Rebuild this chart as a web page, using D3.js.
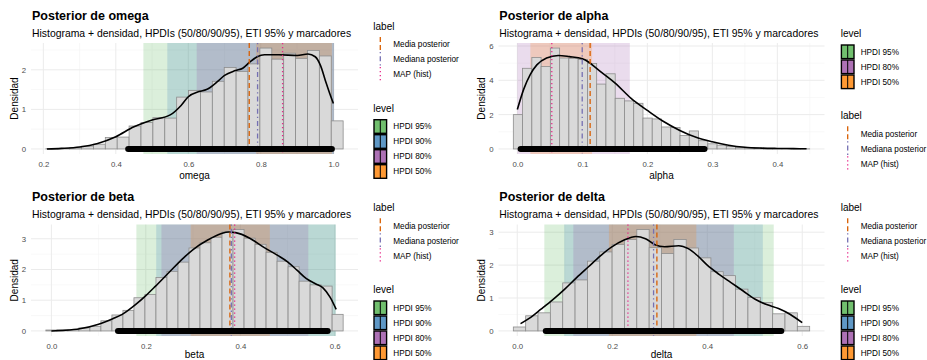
<!DOCTYPE html>
<html>
<head>
<meta charset="utf-8">
<script src="https://cdn.jsdelivr.net/npm/d3@7"></script>
<style>
  body { margin: 0; background: #ffffff; }
  svg { display: block; }
  text { font-family: "Liberation Sans", Arial, Helvetica, sans-serif; }
</style>
</head>
<body>
<svg id="fig" width="927" height="360"></svg>
<script>
// ---------- omega ----------
const omegaBinStart = 0.207;
const omegaBinWidth = 0.0328;
const omegaHeights = [0.005, 0.01, 0.03, 0.07, 0.12, 0.29, 0.30, 0.58, 0.67, 0.79, 0.78, 1.31, 1.48,
                      1.44, 1.71, 2.06, 1.96, 2.15, 2.55, 2.27, 2.42, 2.29, 2.49, 2.35, 0.71];
const omegaDensity = [[0.21, 0.0], [0.25, 0.015], [0.30, 0.05], [0.35, 0.14], [0.40, 0.31], [0.45, 0.56],
                      [0.48, 0.67], [0.50, 0.73], [0.55, 0.86], [0.58, 1.10], [0.60, 1.32], [0.63, 1.45],
                      [0.65, 1.50], [0.68, 1.70], [0.70, 1.86], [0.73, 1.98], [0.75, 2.04], [0.77, 2.20],
                      [0.79, 2.33], [0.81, 2.38], [0.85, 2.38], [0.90, 2.36], [0.93, 2.40], [0.95, 2.33],
                      [0.965, 2.10], [0.98, 1.67], [0.99, 1.40], [1.0, 1.15]];
const omegaHPDI = [["HPDI 95%", 0.476, 1.002], ["HPDI 90%", 0.542, 1.002],
                   ["HPDI 80%", 0.623, 1.002], ["HPDI 50%", 0.787, 0.996]];
const omegaMarkers = [["Media posterior", 0.768], ["Mediana posterior", 0.791], ["MAP (hist)", 0.860]];
const omegaETI = [0.434, 0.996];
const omegaXTicks = [0.2, 0.4, 0.6, 0.8, 1.0];
const omegaYTicks = [0, 1, 2];

// ---------- alpha ----------
const alphaBinStart = -0.0062;
const alphaBinWidth = 0.01425;
const alphaHeights = [2.0, 4.7, 5.33, 4.8, 5.88, 5.3, 5.28, 5.22, 4.98, 3.78, 4.38, 2.95, 2.8, 2.66,
                      1.8, 1.75, 1.28, 1.25, 0.78, 1.05, 0.48, 0.3, 0.22, 0.15, 0.1, 0.07, 0.05,
                      0.03, 0.02, 0.01, 0.01, 0.005];
const alphaDensity = [[0.0, 2.3], [0.01, 3.5], [0.02, 4.35], [0.03, 4.9], [0.045, 5.3], [0.063, 5.45],
                      [0.08, 5.38], [0.10, 5.25], [0.11, 5.05], [0.12, 4.75], [0.135, 4.3], [0.15, 3.85],
                      [0.175, 2.95], [0.20, 2.25], [0.225, 1.6], [0.25, 1.08], [0.275, 0.68], [0.30, 0.42],
                      [0.325, 0.22], [0.35, 0.1], [0.375, 0.05], [0.40, 0.03], [0.425, 0.02], [0.445, 0.01]];
const alphaHPDI = [["HPDI 80%", 0.0, 0.173], ["HPDI 50%", 0.02, 0.115]];
const alphaMarkers = [["Media posterior", 0.112], ["Mediana posterior", 0.0998], ["MAP (hist)", 0.053]];
const alphaETI = [0.005, 0.288];
const alphaXTicks = [0.0, 0.1, 0.2, 0.3, 0.4];
const alphaYTicks = [0, 2, 4, 6];

// ---------- beta ----------
const betaBinStart = -0.01166;
const betaBinWidth = 0.02331;
const betaHeights = [0.03, 0.04, 0.05, 0.10, 0.15, 0.33, 0.52, 0.67, 1.08, 1.19, 1.74, 1.94, 2.24, 2.70,
                     2.87, 3.05, 3.22, 3.30, 3.02, 2.82, 2.56, 2.27, 2.09, 1.62, 1.50, 1.46, 0.54];
const betaDensity = [[0.0, 0.0], [0.03, 0.02], [0.06, 0.07], [0.10, 0.22], [0.13, 0.40], [0.15, 0.54],
                     [0.18, 0.88], [0.20, 1.15], [0.22, 1.45], [0.25, 1.92], [0.28, 2.38], [0.30, 2.65],
                     [0.33, 2.95], [0.36, 3.17], [0.375, 3.22], [0.39, 3.20], [0.42, 3.02], [0.45, 2.72],
                     [0.48, 2.45], [0.50, 2.25], [0.52, 1.98], [0.54, 1.70], [0.56, 1.53], [0.575, 1.40],
                     [0.59, 1.10], [0.603, 0.70]];
const betaHPDI = [["HPDI 95%", 0.180, 0.602], ["HPDI 90%", 0.222, 0.602],
                  ["HPDI 80%", 0.233, 0.544], ["HPDI 50%", 0.295, 0.4625]];
const betaMarkers = [["Media posterior", 0.378], ["Mediana posterior", 0.381], ["MAP (hist)", 0.388]];
const betaETI = [0.141, 0.585];
const betaXTicks = [0.0, 0.2, 0.4, 0.6];
const betaYTicks = [0, 1, 2, 3];

// ---------- delta ----------
const deltaBinStart = -0.0083;
const deltaBinWidth = 0.026;
const deltaHeights = [0.12, 0.46, 0.55, 0.88, 1.46, 1.55, 2.12, 2.40, 2.63, 2.78, 3.08, 2.53, 2.35, 2.78,
                      2.52, 2.22, 1.80, 1.68, 1.27, 1.02, 0.86, 0.52, 0.55, 0.14];
const deltaDensity = [[0.007, 0.22], [0.025, 0.38], [0.05, 0.66], [0.075, 0.95], [0.10, 1.27], [0.125, 1.62],
                      [0.15, 1.95], [0.175, 2.28], [0.20, 2.56], [0.225, 2.76], [0.25, 2.87], [0.27, 2.80],
                      [0.29, 2.62], [0.31, 2.56], [0.34, 2.59], [0.36, 2.50], [0.38, 2.28], [0.40, 2.00],
                      [0.425, 1.72], [0.45, 1.47], [0.475, 1.22], [0.50, 0.97], [0.525, 0.80], [0.55, 0.68],
                      [0.575, 0.50], [0.60, 0.25]];
const deltaHPDI = [["HPDI 95%", 0.057, 0.540], ["HPDI 90%", 0.099, 0.517],
                   ["HPDI 80%", 0.118, 0.456], ["HPDI 50%", 0.193, 0.377]];
const deltaMarkers = [["Media posterior", 0.294], ["Mediana posterior", 0.287], ["MAP (hist)", 0.233]];
const deltaETI = [0.060, 0.556];
const deltaXTicks = [0.0, 0.2, 0.4, 0.6];
const deltaYTicks = [0, 1, 2, 3];

// ---------- shared styling ----------
const levelColors = { "HPDI 95%": "#4DAF4A", "HPDI 90%": "#377EB8", "HPDI 80%": "#984EA3", "HPDI 50%": "#FF7F00" };
const markerStyles = {
  "Media posterior":   { color: "#D95F02", dash: "5,3" },
  "Mediana posterior": { color: "#7570B3", dash: "1.3,3,5,3" },
  "MAP (hist)":        { color: "#E7298A", dash: "1.3,2.7" }
};
const subtitleText = "Histograma + densidad, HPDIs (50/80/90/95), ETI 95% y marcadores";

const panels = [
  { name: "omega", binStart: omegaBinStart, binWidth: omegaBinWidth, heights: omegaHeights,
    density: omegaDensity, hpdi: omegaHPDI, markers: omegaMarkers, eti: omegaETI,
    xTicks: omegaXTicks, yTicks: omegaYTicks, fmt: ".1f",
    legends: ["label", "level"], levels: ["HPDI 95%", "HPDI 90%", "HPDI 80%", "HPDI 50%"],
    box: { left: 31, right: 358, top: 43, bottom: 154 }, titleX: 32, titleY: 19.5, yTitleX: 17.5,
    xTitleY: 179, legendX: 373.3, legendY: 26 },
  { name: "alpha", binStart: alphaBinStart, binWidth: alphaBinWidth, heights: alphaHeights,
    density: alphaDensity, hpdi: alphaHPDI, markers: alphaMarkers, eti: alphaETI,
    xTicks: alphaXTicks, yTicks: alphaYTicks, fmt: ".1f",
    legends: ["level", "label"], levels: ["HPDI 95%", "HPDI 80%", "HPDI 50%"],
    box: { left: 498.5, right: 824.5, top: 43, bottom: 154 }, titleX: 499.3, titleY: 19.5, yTitleX: 484.5,
    xTitleY: 179, legendX: 840.7, legendY: 33.3 },
  { name: "beta", binStart: betaBinStart, binWidth: betaBinWidth, heights: betaHeights,
    density: betaDensity, hpdi: betaHPDI, markers: betaMarkers, eti: betaETI,
    xTicks: betaXTicks, yTicks: betaYTicks, fmt: ".1f",
    legends: ["label", "level"], levels: ["HPDI 95%", "HPDI 90%", "HPDI 80%", "HPDI 50%"],
    box: { left: 31, right: 358, top: 224.5, bottom: 336 }, titleX: 32, titleY: 201, yTitleX: 17.5,
    xTitleY: 358, legendX: 373.3, legendY: 207.3 },
  { name: "delta", binStart: deltaBinStart, binWidth: deltaBinWidth, heights: deltaHeights,
    density: deltaDensity, hpdi: deltaHPDI, markers: deltaMarkers, eti: deltaETI,
    xTicks: deltaXTicks, yTicks: deltaYTicks, fmt: ".1f",
    legends: ["label", "level"], levels: ["HPDI 95%", "HPDI 90%", "HPDI 80%", "HPDI 50%"],
    box: { left: 498.5, right: 824.5, top: 224.5, bottom: 336 }, titleX: 499.3, titleY: 201, yTitleX: 484.5,
    xTitleY: 358, legendX: 840.7, legendY: 207.3 }
];

const svg = d3.select("#fig");

function drawPanel(p) {
  const g = svg.append("g").attr("class", "panel-" + p.name);
  const bins = p.heights.map((h, i) => ({ x0: p.binStart + i * p.binWidth, x1: p.binStart + (i + 1) * p.binWidth, h }));

  // ggplot-style 5% expansion of the data range
  const xMin = bins[0].x0, xMax = bins[bins.length - 1].x1;
  const xPad = (xMax - xMin) * 0.05;
  const yMax = d3.max(p.heights.concat(p.density.map(d => d[1])));
  const yPad = yMax * 0.05;

  const x = d3.scaleLinear().domain([xMin - xPad, xMax + xPad]).range([p.box.left, p.box.right]);
  const y = d3.scaleLinear().domain([-yPad, yMax + yPad]).range([p.box.bottom, p.box.top]);

  // grid: minor then major
  const xStep = p.xTicks[1] - p.xTicks[0];
  const yStep = p.yTicks[1] - p.yTicks[0];
  const xMinor = d3.range(p.xTicks[0] - xStep / 2, xMax + xPad, xStep).filter(v => v > x.domain()[0] && v < x.domain()[1]);
  const yMinor = d3.range(p.yTicks[0] + yStep / 2, yMax + yPad, yStep).filter(v => v < y.domain()[1]);
  const grid = g.append("g");
  grid.selectAll(".xm").data(xMinor).join("line")
    .attr("x1", d => x(d)).attr("x2", d => x(d)).attr("y1", p.box.top).attr("y2", p.box.bottom)
    .attr("stroke", "#F3F3F3").attr("stroke-width", 0.6);
  grid.selectAll(".ym").data(yMinor).join("line")
    .attr("x1", p.box.left).attr("x2", p.box.right).attr("y1", d => y(d)).attr("y2", d => y(d))
    .attr("stroke", "#F3F3F3").attr("stroke-width", 0.6);
  grid.selectAll(".xM").data(p.xTicks).join("line")
    .attr("x1", d => x(d)).attr("x2", d => x(d)).attr("y1", p.box.top).attr("y2", p.box.bottom)
    .attr("stroke", "#EBEBEB").attr("stroke-width", 1);
  grid.selectAll(".yM").data(p.yTicks).join("line")
    .attr("x1", p.box.left).attr("x2", p.box.right).attr("y1", d => y(d)).attr("y2", d => y(d))
    .attr("stroke", "#EBEBEB").attr("stroke-width", 1);

  // HPDI bands
  g.append("g").selectAll("rect").data(p.hpdi).join("rect")
    .attr("x", d => x(d[1])).attr("width", d => x(d[2]) - x(d[1]))
    .attr("y", p.box.top).attr("height", p.box.bottom - p.box.top)
    .attr("fill", d => levelColors[d[0]]).attr("fill-opacity", 0.2);

  // histogram
  g.append("g").selectAll("rect").data(bins).join("rect")
    .attr("x", d => x(d.x0)).attr("width", d => x(d.x1) - x(d.x0))
    .attr("y", d => y(d.h)).attr("height", d => y(0) - y(d.h))
    .attr("fill", "#D9D9D9").attr("stroke", "#8C8C8C").attr("stroke-width", 0.8);

  // density
  g.append("path").datum(p.density)
    .attr("d", d3.line().x(d => x(d[0])).y(d => y(d[1])).curve(d3.curveMonotoneX))
    .attr("fill", "none").attr("stroke", "#000").attr("stroke-width", 1.6);

  // marker lines
  g.append("g").selectAll("line").data(p.markers).join("line")
    .attr("x1", d => x(d[1])).attr("x2", d => x(d[1]))
    .attr("y1", p.box.top).attr("y2", p.box.bottom)
    .attr("stroke", d => markerStyles[d[0]].color)
    .attr("stroke-dasharray", d => markerStyles[d[0]].dash)
    .attr("stroke-width", 1.3);

  // ETI 95% segment
  g.append("line")
    .attr("x1", x(p.eti[0])).attr("x2", x(p.eti[1])).attr("y1", y(0)).attr("y2", y(0))
    .attr("stroke", "#000").attr("stroke-width", 6).attr("stroke-linecap", "round");

  // axes
  const xAxis = d3.axisBottom(x).tickValues(p.xTicks).tickFormat(d3.format(p.fmt)).tickSize(0).tickPadding(7);
  const ax = g.append("g").attr("transform", `translate(0,${p.box.bottom})`).call(xAxis);
  ax.select(".domain").remove();
  ax.selectAll("text").attr("fill", "#4D4D4D").style("font-size", "7.8px")
    .style("font-family", '"Liberation Sans", Arial, sans-serif');

  const yAxis = d3.axisLeft(y).tickValues(p.yTicks).tickFormat(d3.format("d")).tickSize(0).tickPadding(5);
  const ay = g.append("g").attr("transform", `translate(${p.box.left},0)`).call(yAxis);
  ay.select(".domain").remove();
  ay.selectAll("text").attr("fill", "#4D4D4D").style("font-size", "7.8px")
    .style("font-family", '"Liberation Sans", Arial, sans-serif');

  // titles
  g.append("text").attr("x", p.titleX).attr("y", p.titleY)
    .style("font-size", "12.5px").style("font-weight", "bold").attr("fill", "#000")
    .text("Posterior de " + p.name);
  g.append("text").attr("x", p.titleX).attr("y", p.titleY + 17)
    .style("font-size", "10.4px").attr("fill", "#000").text(subtitleText);
  g.append("text")
    .attr("transform", `translate(${p.yTitleX},${(p.box.top + p.box.bottom) / 2}) rotate(-90)`)
    .attr("text-anchor", "middle").style("font-size", "10px").attr("fill", "#000").text("Densidad");
  g.append("text").attr("x", (p.box.left + p.box.right) / 2).attr("y", p.xTitleY)
    .attr("text-anchor", "middle").style("font-size", "10px").attr("fill", "#000").text(p.name);

  // legends
  let ty = p.legendY;
  const lx = p.legendX;
  const keyW = 14, keyH = 15;
  p.legends.forEach(kind => {
    const lg = g.append("g");
    lg.append("text").attr("x", lx).attr("y", ty).attr("dy", "0.35em")
      .style("font-size", "10px").attr("fill", "#000").text(kind);
    const items = kind === "label" ? p.markers.map(m => m[0]) : p.levels;
    items.forEach((name, i) => {
      const top = ty + 11 + i * keyH;
      if (kind === "label") {
        const s = markerStyles[name];
        lg.append("line").attr("x1", lx + keyW / 2).attr("x2", lx + keyW / 2)
          .attr("y1", top).attr("y2", top + keyH)
          .attr("stroke", s.color).attr("stroke-dasharray", s.dash).attr("stroke-width", 1.3);
      } else {
        lg.append("rect").attr("x", lx + 0.7).attr("y", top + 0.7)
          .attr("width", keyW - 1.4).attr("height", keyH - 1.4)
          .attr("fill", levelColors[name]).attr("fill-opacity", 0.8)
          .attr("stroke", "#000").attr("stroke-width", 1.4);
        lg.append("line").attr("x1", lx + keyW / 2).attr("x2", lx + keyW / 2)
          .attr("y1", top + 0.7).attr("y2", top + keyH - 0.7)
          .attr("stroke", "#000").attr("stroke-width", 1);
      }
      lg.append("text").attr("x", lx + 20).attr("y", top + keyH / 2).attr("dy", "0.35em")
        .style("font-size", "8.2px").attr("fill", "#000").text(name);
    });
    ty = ty + 11 + items.length * keyH + 26;
  });
}

panels.forEach(drawPanel);
</script>
</body>
</html>
